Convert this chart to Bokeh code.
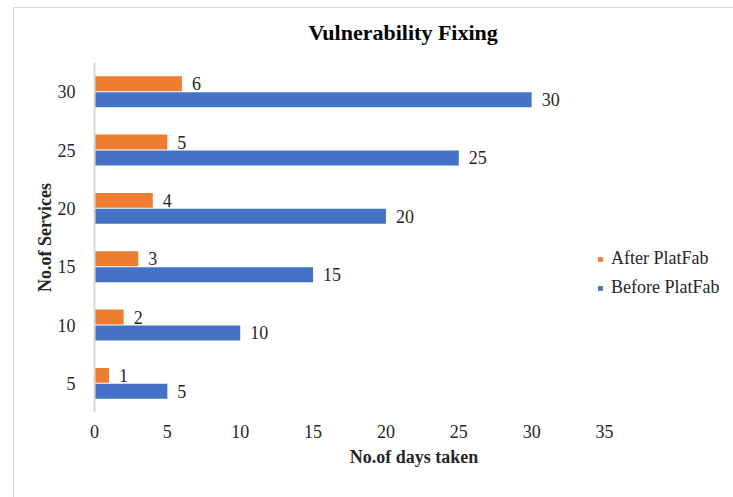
from bokeh.plotting import figure
from bokeh.models import (ColumnDataSource, FactorRange, LabelSet, Legend, LegendItem,
                          Range1d, FixedTicker)
from bokeh.transform import dodge
from bokeh.embed import file_html
from bokeh.resources import INLINE

services = ["5", "10", "15", "20", "25", "30"]
before = [5, 10, 15, 20, 25, 30]
after = [1, 2, 3, 4, 5, 6]
x_ticks = [0, 5, 10, 15, 20, 25, 30, 35]

FONT = "Liberation Serif"
TXT = "#262626"

src = ColumnDataSource(dict(svc=services, before=before, after=after,
                            before_lbl=[str(v) for v in before],
                            after_lbl=[str(v) for v in after]))

# frame extends to the right edge (invisible) so the legend is not clipped;
# x = 35 lands at the position of the reference's last tick
FRAME_W = 733 - 94
X_END = 35 * FRAME_W / 510.0

p = figure(width=733, height=497, y_range=FactorRange(factors=services, range_padding=0),
           x_range=Range1d(0, X_END), output_backend="svg", toolbar_location=None,
           min_border_left=94, min_border_right=0, min_border_top=62, min_border_bottom=85)
# chart-area border (top and left edges) drawn as CSS background lines
p.border_fill_color = None
p.background_fill_color = None
p.styles = {
    "background-color": "white",
    "background-image": "linear-gradient(#d9d9d9, #d9d9d9), linear-gradient(#d9d9d9, #d9d9d9)",
    "background-size": "100% 1px, 1px 100%",
    "background-position": "13px 7px, 13px 7px",
    "background-repeat": "no-repeat",
}
p.outline_line_color = None
p.xgrid.visible = False
p.ygrid.visible = False

r_after = p.hbar(y=dodge("svc", 0.137, range=p.y_range), right="after", left=0, height=0.256,
                 source=src, color="#ED7D31", line_color=None)
r_before = p.hbar(y=dodge("svc", -0.137, range=p.y_range), right="before", left=0, height=0.256,
                  source=src, color="#4472C4", line_color=None)

for col, lbl, off in [("after", "after_lbl", 0.137), ("before", "before_lbl", -0.137)]:
    p.add_layout(LabelSet(x=col, y=dodge("svc", off, range=p.y_range), text=lbl, source=src,
                          x_offset=10, y_offset=0, text_baseline="middle", text_font=FONT,
                          text_font_size="18px", text_color=TXT))

# axes
p.xaxis.ticker = FixedTicker(ticks=x_ticks)
p.xaxis.axis_line_color = None
p.xaxis.major_tick_line_color = None
p.xaxis.minor_tick_line_color = None
p.xaxis.major_label_text_font = FONT
p.xaxis.major_label_text_font_size = "18px"
p.xaxis.major_label_text_color = TXT
p.xaxis.major_label_standoff = 6
p.xaxis.axis_label = "No.of days taken"
p.xaxis.axis_label_text_font = FONT
p.xaxis.axis_label_text_font_size = "18px"
p.xaxis.axis_label_text_font_style = "bold"
p.xaxis.axis_label_text_color = TXT
p.xaxis.axis_label_standoff = 6

p.yaxis.axis_line_color = "#d9d9d9"
p.yaxis.axis_line_width = 2
p.yaxis.major_tick_line_color = None
p.yaxis.minor_tick_line_color = None
p.yaxis.major_label_text_font = FONT
p.yaxis.major_label_text_font_size = "18px"
p.yaxis.major_label_text_color = TXT
p.yaxis.major_label_standoff = 13
p.yaxis.axis_label = "No.of Services"
p.yaxis.axis_label_text_font = FONT
p.yaxis.axis_label_text_font_size = "18px"
p.yaxis.axis_label_text_font_style = "bold"
p.yaxis.axis_label_text_color = TXT
p.yaxis.axis_label_standoff = 0

# title
p.title.text = "Vulnerability  Fixing"
p.title.text_font = FONT
p.title.text_font_size = "22px"
p.title.text_font_style = "bold"
p.title.text_color = "#000000"
p.title.align = "left"
p.title.offset = 214
p.title.standoff = 35

legend = Legend(items=[LegendItem(label="After PlatFab", renderers=[r_after]),
                       LegendItem(label="Before PlatFab", renderers=[r_before])],
                location=(503, 114), label_text_font=FONT, label_text_font_size="18px",
                label_text_color=TXT, glyph_width=6, glyph_height=6, spacing=8,
                label_standoff=8, label_height=20, background_fill_alpha=0,
                border_line_color=None, padding=0, margin=0)
p.add_layout(legend, "center")

open("out.html", "w").write(file_html(p, INLINE))
